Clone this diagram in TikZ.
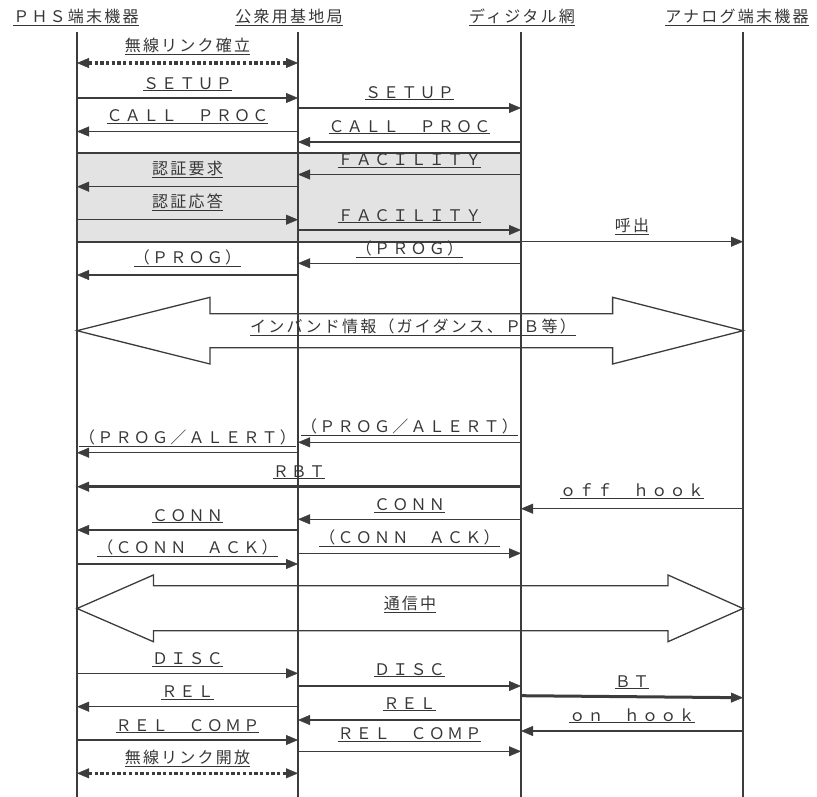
\documentclass[tikz,border=0pt]{standalone}
\usepackage{fontspec}
\newfontfamily\jp[LetterSpace=14]{Noto Sans CJK JP}
\usetikzlibrary{arrows.meta,positioning}
\definecolor{ink}{HTML}{3C3C3C}
\definecolor{boxgray}{HTML}{E3E3E3}
\tikzset{
	lifeline/.style={draw=ink, line width=1.3pt},
	msg/.style={draw=ink, line width=1.5pt, -{Triangle[length=12pt,width=10pt,line width=0.4pt]}},
	heavymsg/.style={msg, line width=3pt},
	radio/.style={draw=ink, line width=3.5pt, dash pattern=on 3.3pt off 2.4pt,
		{Triangle[length=12pt,width=10pt,line width=0.4pt]}-{Triangle[length=12pt,width=10pt,line width=0.4pt]}},
	bigarrow/.style={draw=ink, line width=1.3pt, line join=miter},
	lbl/.style={font=\jp\fontsize{16pt}{18pt}\selectfont, text=ink!90!black, inner sep=0pt},
	head/.style={lbl, anchor=south},
}
\begin{document}
\begin{tikzpicture}[x=1pt, y=-1pt]
		
		\useasboundingbox (0,0) rectangle (817,797);
		
		% headers
		\node[head] (phs) at (76,26) {\underline{ＰＨＳ端末機器}};
		\node[head] (base) at (289,26) {\underline{公衆用基地局}};
		\node[head] (dnet) at (522,26) {\underline{ディジタル網}};
		\node[head] (anlg) at (737,26) {\underline{アナログ端末機器}};
		
		\foreach \n/\x in {l1/77,l2/298,l3/521,l4/743} {
			\coordinate (\n) at (\x,32);
			\coordinate (\n-end) at (\x,797);
		}
		
		% authentication box
		\draw[fill=boxgray, draw=ink, line width=1.3pt] (l1 |- 0,153) rectangle (l3 |- 0,242);
		
		\draw[lifeline] (l1) -- (l1-end);
		\draw[lifeline] (l2) -- (l2-end);
		\draw[lifeline] (l3) -- (l3-end);
		\draw[lifeline] (l4) -- (l4-end);
		
		% call setup
		\draw[radio] (l1 |- 0,63) -- node[lbl, above=6pt] (radioup) {\underline{無線リンク確立}} (l2 |- 0,63);
		\draw[msg] (l1 |- 0,98) -- node[lbl, above=6pt] (setupa) {\underline{ＳＥＴＵＰ}} (l2 |- 0,98);
		\draw[msg] (l2 |- 0,108) -- node[lbl, above=7pt] (setupb) {\underline{ＳＥＴＵＰ}} (l3 |- 0,108);
		\draw[msg] (l2 |- 0,131.5) -- node[lbl, above=7pt] (procb) {\underline{ＣＡＬＬ　ＰＲＯＣ}} (l1 |- 0,131.5);
		\draw[msg] (l3 |- 0,142) -- node[lbl, above=7pt] (proca) {\underline{ＣＡＬＬ　ＰＲＯＣ}} (l2 |- 0,142);
		
		\draw[msg] (l3 |- 0,174.5) -- node[lbl, above=6pt] (faca) {\underline{ＦＡＣＩＬＩＴＹ}} (l2 |- 0,174.5);
		\draw[msg] (l2 |- 0,186.7) -- node[lbl, above=8pt] (authreq) {\underline{認証要求}} (l1 |- 0,186.7);
		\draw[msg] (l1 |- 0,219.7) -- node[lbl, above=8pt] (authres) {\underline{認証応答}} (l2 |- 0,219.7);
		\draw[msg] (l2 |- 0,230) -- node[lbl, above=6pt] (facb) {\underline{ＦＡＣＩＬＩＴＹ}} (l3 |- 0,230);
		\draw[msg] (l3 |- 0,241.7) -- node[lbl, above=6pt] (ring) {\underline{呼出}} (l4 |- 0,241.7);
		\draw[msg] (l3 |- 0,263.3) -- node[lbl, above=5pt] (proga) {\underline{（ＰＲＯＧ）}} (l2 |- 0,263.3);
		\draw[msg] (l2 |- 0,275) -- node[lbl, above=7pt] (progb) {\underline{（ＰＲＯＧ）}} (l1 |- 0,275);
		
		% in-band information
		\draw[bigarrow] (l1 |- 0,330.7) -- (210,297.3) -- (210,313.7) -- (612.6,313.7) -- (612.6,297.3) -- (l4 |- 0,330.7)
			-- (612.6,364) -- (612.6,347.7) -- (210,347.7) -- (210,364) -- cycle;
		\node[lbl, anchor=south] (inband) at (413,336) {\underline{インバンド情報（ガイダンス、ＰＢ等）}};
		
		% alerting and connect
		\draw[msg] (l3 |- 0,442.3) -- node[lbl, above=6pt] (alerta) {\underline{（ＰＲＯＧ／ＡＬＥＲＴ）}} (l2 |- 0,442.3);
		\draw[msg] (l2 |- 0,452.7) -- node[lbl, above=5pt] (alertb) {\underline{（ＰＲＯＧ／ＡＬＥＲＴ）}} (l1 |- 0,452.7);
		\draw[heavymsg] (l3 |- 0,486.7) -- node[lbl, above=6pt] (rbt) {\underline{ＲＢＴ}} (l1 |- 0,486.7);
		\draw[msg] (l4 |- 0,508.7) -- node[lbl, above=9pt] (offhook) {\underline{ｏｆｆ　ｈｏｏｋ}} (l3 |- 0,508.7);
		\draw[msg] (l3 |- 0,519.3) -- node[lbl, above=6pt] (conna) {\underline{ＣＯＮＮ}} (l2 |- 0,519.3);
		\draw[msg] (l2 |- 0,530) -- node[lbl, above=6pt] (connb) {\underline{ＣＯＮＮ}} (l1 |- 0,530);
		\draw[msg] (l2 |- 0,553.3) -- node[lbl, above=6pt] (acka) {\underline{（ＣＯＮＮ　ＡＣＫ）}} (l3 |- 0,553.3);
		\draw[msg] (l1 |- 0,564) -- node[lbl, above=6pt] (ackb) {\underline{（ＣＯＮＮ　ＡＣＫ）}} (l2 |- 0,564);
		
		% talking
		\draw[bigarrow] (l1 |- 0,608.5) -- (153.4,575) -- (153.4,585.7) -- (668,585.7) -- (668,575) -- (l4 |- 0,608.5)
			-- (668,641.7) -- (668,630.7) -- (153.4,630.7) -- (153.4,641.7) -- cycle;
		\node[lbl, anchor=south] (talk) at (410,613) {\underline{通信中}};
		
		% release
		\draw[msg] (l1 |- 0,673.3) -- node[lbl, above=6pt] (disca) {\underline{ＤＩＳＣ}} (l2 |- 0,673.3);
		\draw[msg] (l2 |- 0,686) -- node[lbl, above=8pt] (discb) {\underline{ＤＩＳＣ}} (l3 |- 0,686);
		\draw[heavymsg] (l3 |- 0,695.7) -- node[lbl, above=6pt] (bt) {\underline{ＢＴ}} (l4 |- 0,697.7);
		\draw[msg] (l2 |- 0,706.7) -- node[lbl, above=6pt] (rela) {\underline{ＲＥＬ}} (l1 |- 0,706.7);
		\draw[msg] (l3 |- 0,720) -- node[lbl, above=8pt] (relb) {\underline{ＲＥＬ}} (l2 |- 0,720);
		\draw[msg] (l4 |- 0,731) -- node[lbl, above=7pt] (onhook) {\underline{ｏｎ　ｈｏｏｋ}} (l3 |- 0,731);
		\draw[msg] (l1 |- 0,740) -- node[lbl, above=6pt] (compa) {\underline{ＲＥＬ　ＣＯＭＰ}} (l2 |- 0,740);
		\draw[msg] (l2 |- 0,751.3) -- node[lbl, above=9pt] (compb) {\underline{ＲＥＬ　ＣＯＭＰ}} (l3 |- 0,751.3);
		\draw[radio] (l1 |- 0,773.3) -- node[lbl, above=5pt] (radiodown) {\underline{無線リンク開放}} (l2 |- 0,773.3);
		
	\end{tikzpicture}
\end{document}
